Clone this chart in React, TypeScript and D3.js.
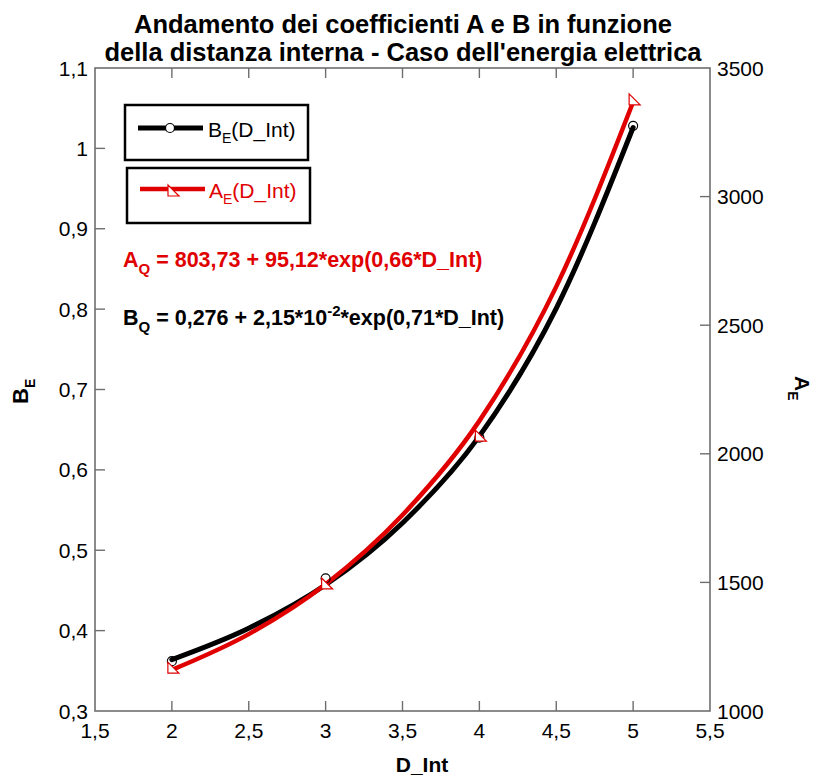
import React from "react";
import * as d3 from "d3";

// ---- data ----
const dInt = [2, 3, 4, 5];
const bEPoints = [0.362, 0.465, 0.64, 1.028];
const aEPoints = [1163, 1490, 2065, 3372];

const curveD = [2, 2.5, 3, 3.5, 4, 4.5, 5];
const bCurve = [0.364, 0.403, 0.457, 0.534, 0.642, 0.801, 1.026];
const aCurve = [1160, 1299, 1493, 1762, 2128, 2650, 3368];

const xTicks = [1.5, 2, 2.5, 3, 3.5, 4, 4.5, 5, 5.5];
const yLeftTicks = [0.3, 0.4, 0.5, 0.6, 0.7, 0.8, 0.9, 1.0, 1.1];
const yRightTicks = [1000, 1500, 2000, 2500, 3000, 3500];

const titleLines = [
  "Andamento dei coefficienti A e B in funzione",
  "della distanza interna - Caso dell'energia elettrica",
];

const FONT = "Arial, 'Liberation Sans', Helvetica, sans-serif";
const RED = "#e00000";
const AXIS = "#6e6e6e";

const fmt = (v: number) => {
  const s = Number.isInteger(v) ? String(v) : String(+v.toFixed(2));
  return s.replace(".", ",");
};

export default function App() {
  const left = 95, right = 710, top = 68, bottom = 711;
  const x = d3.scaleLinear().domain([1.5, 5.5]).range([left, right]);
  const yL = d3.scaleLinear().domain([0.3, 1.1]).range([bottom, top]);
  const yR = d3.scaleLinear().domain([1000, 3500]).range([bottom, top]);

  const lineB = d3
    .line<number>()
    .x((_, i) => x(curveD[i]))
    .y((d) => yL(d))
    .curve(d3.curveMonotoneX);
  const lineA = d3
    .line<number>()
    .x((_, i) => x(curveD[i]))
    .y((d) => yR(d))
    .curve(d3.curveMonotoneX);

  const tri = (cx: number, cy: number) =>
    `M${cx - 4},${cy - 7}L${cx - 4},${cy + 4}L${cx + 7},${cy + 4}Z`;

  const tickLen = 10;

  return (
    <svg
      width={816}
      height={779}
      style={{ position: "absolute", left: 0, top: 0, display: "block", background: "#fff" }}
      fontFamily={FONT}
    >
      <rect x={0} y={0} width={816} height={779} fill="#fff" />
      {/* title */}
      {titleLines.map((t, i) => (
        <text
          key={i}
          x={403}
          y={33 + i * 28}
          textAnchor="middle"
          fontWeight="bold"
          fontSize={25.5}
          fill="#000"
        >
          {t}
        </text>
      ))}

      {/* frame */}
      <rect x={left} y={top} width={right - left} height={bottom - top} fill="none" stroke={AXIS} strokeWidth={1.6} />

      {/* x ticks bottom & top */}
      {xTicks.map((t) => (
        <g key={"x" + t}>
          {t > 1.5 && t < 5.5 && (
            <>
              <line x1={x(t)} x2={x(t)} y1={bottom} y2={bottom - tickLen} stroke={AXIS} strokeWidth={1.4} />
              <line x1={x(t)} x2={x(t)} y1={top} y2={top + tickLen} stroke={AXIS} strokeWidth={1.4} />
            </>
          )}
          <text x={x(t)} y={738} textAnchor="middle" fontSize={21} fill="#000">
            {fmt(t)}
          </text>
        </g>
      ))}

      {/* left ticks */}
      {yLeftTicks.map((t) => (
        <g key={"yl" + t}>
          {t > 0.3 && t < 1.1 && (
            <line x1={left} x2={left + tickLen} y1={yL(t)} y2={yL(t)} stroke={AXIS} strokeWidth={1.4} />
          )}
          <text x={88} y={yL(t)} dy="0.36em" textAnchor="end" fontSize={21} fill="#000">
            {fmt(t)}
          </text>
        </g>
      ))}

      {/* right ticks */}
      {yRightTicks.map((t) => (
        <g key={"yr" + t}>
          {t > 1000 && t < 3500 && (
            <line x1={right} x2={right - tickLen} y1={yR(t)} y2={yR(t)} stroke={AXIS} strokeWidth={1.4} />
          )}
          <text x={717} y={yR(t)} dy="0.36em" textAnchor="start" fontSize={21} fill="#000">
            {t}
          </text>
        </g>
      ))}

      {/* axis labels */}
      <text x={422} y={772} textAnchor="middle" fontWeight="bold" fontSize={21} fill="#000">
        D_Int
      </text>
      <text transform="translate(28,404) rotate(-90)" fontWeight="bold" fontSize={22} fill="#000">
        B<tspan fontSize={14} dy={7}>E</tspan>
      </text>
      <text transform="translate(795,376) rotate(90)" fontWeight="bold" fontSize={21} fill="#000">
        A<tspan fontSize={14} dy={7}>E</tspan>
      </text>

      {/* curves */}
      <path d={lineB(bCurve) || ""} fill="none" stroke="#000" strokeWidth={5} strokeLinecap="round" />
      <path d={lineA(aCurve) || ""} fill="none" stroke={RED} strokeWidth={4.5} strokeLinecap="round" />

      {/* markers */}
      {dInt.map((d, i) => (
        <circle key={"c" + i} cx={x(d)} cy={yL(bEPoints[i])} r={4.5} fill="none" stroke="#000" strokeWidth={1.2} />
      ))}
      {dInt.map((d, i) => (
        <path key={"t" + i} d={tri(x(d), yR(aEPoints[i]))} fill="#fff" stroke={RED} strokeWidth={1.2} />
      ))}

      {/* legend */}
      <rect x={125} y={105} width={183} height={55} fill="#fff" stroke="#000" strokeWidth={2.5} />
      <line x1={138} x2={203} y1={128} y2={128} stroke="#000" strokeWidth={5} />
      <circle cx={170} cy={128} r={4.5} fill="#fff" stroke="#000" strokeWidth={1.2} />
      <text x={208} y={137} fontSize={21} fill="#000">
        B<tspan fontSize={14} dy={6}>E</tspan>
        <tspan dy={-6}>(D_Int)</tspan>
      </text>

      <rect x={127} y={168} width={183} height={55} fill="#fff" stroke="#000" strokeWidth={2.5} />
      <line x1={140} x2={205} y1={189} y2={189} stroke={RED} strokeWidth={4.5} />
      <path d={tri(172, 192)} fill="#fff" stroke={RED} strokeWidth={1.2} />
      <text x={209} y={198} fontSize={21} fill={RED}>
        A<tspan fontSize={14} dy={6}>E</tspan>
        <tspan dy={-6}>(D_Int)</tspan>
      </text>

      {/* equations */}
      <text x={123} y={267} fontSize={21.5} fontWeight="bold" fill={RED}>
        A<tspan fontSize={15} dy={7}>Q</tspan>
        <tspan dy={-7}> = 803,73 + 95,12*exp(0,66*D_Int)</tspan>
      </text>
      <text x={123} y={325} fontSize={21.5} fontWeight="bold" fill="#000">
        B<tspan fontSize={15} dy={7}>Q</tspan>
        <tspan dy={-7}> = 0,276 + 2,15*10</tspan>
        <tspan fontSize={15} dy={-9}>-2</tspan>
        <tspan dy={9}>*exp(0,71*D_Int)</tspan>
      </text>
    </svg>
  );
}
